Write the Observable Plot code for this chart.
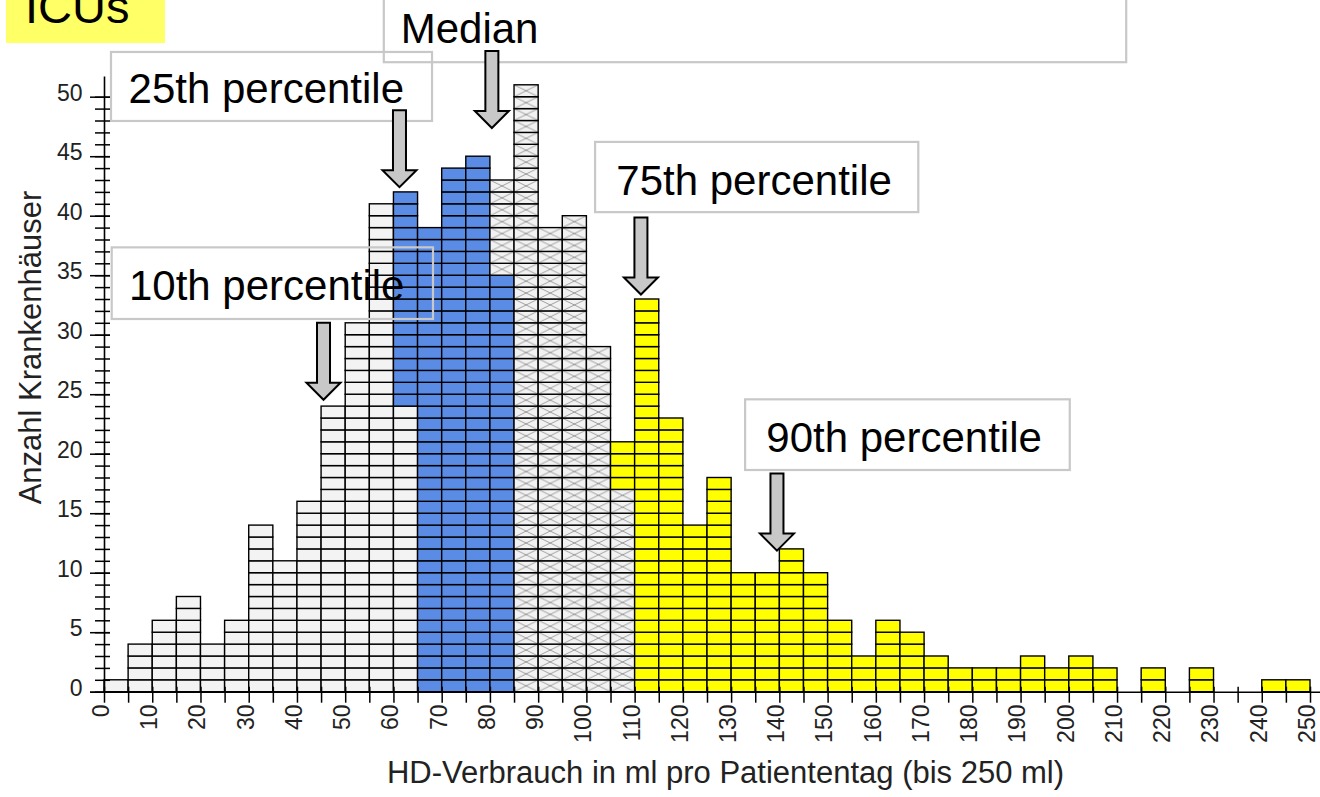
<!DOCTYPE html>
<html><head><meta charset="utf-8">
<script src="https://cdn.jsdelivr.net/npm/d3@7"></script>
<script src="https://cdn.jsdelivr.net/npm/@observablehq/plot@0.6"></script>
<style>
body{margin:0;background:#fff;}
#wrap{position:relative;width:1320px;height:797px;overflow:hidden;background:#fff;}
#wrap svg{position:absolute;left:0;top:0;}
</style></head><body>
<div id="wrap"></div>
<script>
// ---- data ----
const binWidth = 5;
const binStarts = [0,5,10,15,20,25,30,35,40,45,50,55,60,65,70,75,80,85,90,95,
  100,105,110,115,120,125,130,135,140,145,150,155,160,165,170,175,180,185,190,195,
  200,205,210,215,220,225,230,235,240,245];
const counts = [1,4,6,8,4,6,14,11,16,24,31,41,42,39,44,45,43,51,39,40,
  29,21,33,23,14,18,10,10,12,10,6,3,6,5,3,2,2,2,3,2,
  3,2,0,2,0,2,0,0,1,1];
// bins in which a percentile boundary falls: cells below the boundary keep the lower group
const splitBins = [60, 80, 105];
const splitCells = [24, 35, 17];
const groupFills = ["#f3f3f3", "#5a8ce6", "url(#crosshatch)", "#ffff00"];

const xTickLabels = [0,10,20,30,40,50,60,70,80,90,100,110,120,130,140,150,160,170,180,190,200,210,220,230,240,250];
const yTickLabels = [0,5,10,15,20,25,30,35,40,45,50];

const annLabels = ["10th percentile", "25th percentile", "Median", "75th percentile", "90th percentile"];
const annBoxX1 = [1.6, 1.45, 58.0, 101.8, 132.9];
const annBoxX2 = [68.2, 68.0, 211.9, 168.8, 200.2];
const annBoxY1 = [31.32, 47.96, 52.9, 40.3, 18.63];
const annBoxY2 = [37.34, 53.76, 58.5, 46.2, 24.57];
const annTextX = [5.06, 4.98, 61.4, 106.1, 137.2];
const annTextY = [34.1, 50.68, 55.72, 42.95, 21.3];
const arrowTipX = [45.4, 61.15, 80.3, 111.2, 139.4];
const arrowTipY = [24.57, 42.44, 47.41, 33.42, 11.9];

// ---- derived tables ----
const cells = binStarts.flatMap((b, i) => d3.range(counts[i]).map(k => ({
  bin: b, k,
  group: splitBins.filter((s, j) => b > s || (b === s && k >= splitCells[j])).length
})));
const ann = annLabels.map((t, i) => ({
  t, x1: annBoxX1[i], x2: annBoxX2[i], y1: annBoxY1[i], y2: annBoxY2[i],
  tx: annTextX[i], ty: annTextY[i], ax: arrowTipX[i], ay: arrowTipY[i]
}));

const arrowSymbol = {
  draw(ctx) {
    ctx.moveTo(-6.5, -77); ctx.lineTo(6.5, -77); ctx.lineTo(6.5, -17);
    ctx.lineTo(17, -17); ctx.lineTo(0, 0); ctx.lineTo(-17, -17);
    ctx.lineTo(-6.5, -17); ctx.closePath();
  }
};

const font = "Liberation Sans, Arial, sans-serif";
const cellMarks = [0,1,2,3].map(g => Plot.rect(cells.filter(d => d.group === g), {
  x1: "bin", x2: d => d.bin + binWidth, y1: "k", y2: d => d.k + 1,
  fill: groupFills[g], stroke: "#000", strokeWidth: 1.4
}));

const plot = Plot.plot({
  width: 1320, height: 797,
  marginLeft: 104, marginRight: 10, marginTop: 96.7, marginBottom: 105.3,
  style: {fontFamily: font, background: "transparent", overflow: "visible"},
  x: {domain: [0, 250], axis: null},
  y: {domain: [0, 50], axis: null},
  marks: [
    ...cellMarks,
    Plot.rect(ann, {x1: "x1", x2: "x2", y1: "y1", y2: "y2", fill: "none", stroke: "#c8c8c8", strokeWidth: 2.2}),
    Plot.dot(ann, {x: "ax", y: "ay", symbol: arrowSymbol, fill: "#c8c8c8", stroke: "#000", strokeWidth: 2, strokeLinejoin: "miter"}),
    Plot.ruleX([0], {y1: 0, y2: 51.7, stroke: "#000", strokeWidth: 1.6}),
    Plot.ruleY([0], {x1: -2.9, x2: 252.5, stroke: "#000", strokeWidth: 1.6}),
    Plot.axisY({ticks: d3.range(0, 51, 1), tickSize: 15, dx: 6, tickFormat: () => "", label: null, strokeWidth: 1.5}),
    Plot.axisY({ticks: yTickLabels, tickSize: 20, dx: 6, tickFormat: () => "", label: null, strokeWidth: 1.5}),
    Plot.axisX({ticks: d3.range(0, 251, 5), tickSize: 16, dy: -5, tickFormat: () => "", label: null, strokeWidth: 1.5}),
    Plot.text(yTickLabels, {y: d => d, text: d => String(d), frameAnchor: "left", dx: -22, dy: -4, textAnchor: "end", lineAnchor: "middle", fontSize: 23, fill: "#222"}),
    Plot.text(xTickLabels, {x: d => d, text: d => String(d), frameAnchor: "bottom", dx: -3, dy: 12.3, rotate: -90, textAnchor: "end", lineAnchor: "middle", fontSize: 23, fill: "#222"}),
    Plot.text(["Anzahl Krankenhäuser"], {text: d => d, frameAnchor: "left", rotate: -90, dx: -73, dy: -47.2, textAnchor: "middle", lineAnchor: "middle", fontSize: 31, fill: "#222"}),
    Plot.text(["HD-Verbrauch in ml pro Patiententag (bis 250 ml)"], {text: d => d, frameAnchor: "bottom", dx: 18, dy: 80.4, textAnchor: "middle", lineAnchor: "middle", fontSize: 31, fill: "#222"}),
    Plot.text(ann, {x: "tx", y: "ty", text: "t", textAnchor: "start", lineAnchor: "middle", fontSize: 42, fill: "#000"})
  ]
});

// crosshatch pattern aligned to the cell grid via the plot's scales
const sx = plot.scale("x"), sy = plot.scale("y");
const cw = sx.apply(binWidth) - sx.apply(0);
const ch = sy.apply(0) - sy.apply(1);
const defs = d3.select(plot).insert("defs", ":first-child");
const pat = defs.append("pattern").attr("id", "crosshatch").attr("patternUnits", "userSpaceOnUse")
  .attr("x", sx.apply(0)).attr("y", sy.apply(0)).attr("width", cw).attr("height", ch);
pat.append("rect").attr("width", cw).attr("height", ch).attr("fill", "#f2f2f2");
pat.append("path").attr("d", `M0,0L${cw},${ch}M0,${ch}L${cw},0`).attr("stroke", "#8a8a8a").attr("stroke-width", 0.8).attr("fill", "none");

const wrap = document.getElementById("wrap");
wrap.appendChild(plot);

// title badge
const t = d3.select(wrap).append("svg").attr("width", 170).attr("height", 45).style("left", "0px").style("top", "0px");
t.append("rect").attr("x", 6).attr("y", 0).attr("width", 159).attr("height", 43).attr("fill", "#ffff66");
t.append("text").attr("x", 25).attr("y", 23).attr("font-family", font).attr("font-size", 47).attr("fill", "#000").text("ICUs");
</script>
</body></html>
